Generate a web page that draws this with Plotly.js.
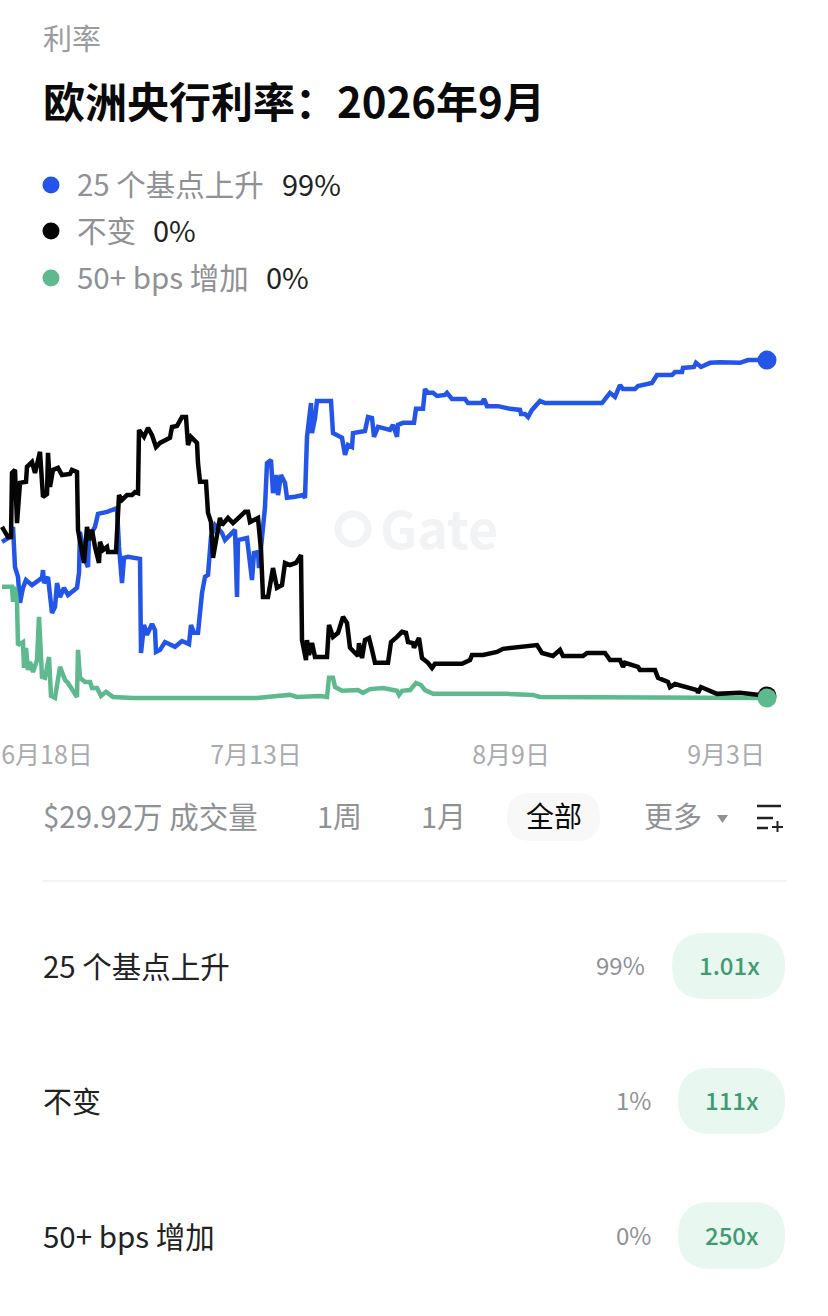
<!DOCTYPE html>
<html><head><meta charset="utf-8">
<script src="https://cdn.plot.ly/plotly-3.0.1.min.js"></script>
<style>html,body{margin:0;padding:0;background:#fff}#c{width:828px;height:1316px}</style>
</head><body><div id="c"></div>
<script>
const tickIdx=[47,256,511,726];
const tickLabels=['6月18日','7月13日','8月9日','9月3日'];
const seriesNames=['25 个基点上升','不变','50+ bps 增加'];
const blueX=[2,10,13,15,18,20,23,26,32,42,43,44,48,52,55,57,60,64,68,77,79,80,85,88,89,95,98,107,117,119,122,124,128,140,141,144,147,152,155,156,160,165,175,182,189,191,194,198,202,205,208,211,215,222,225,235,237,238,247,252,254,258,259,262,265,267,271,273,276,278,281,285,287,295,303,305,307,311,312,315,317,331,333,342,345,348,352,353,365,368,372,374,378,390,393,397,398,403,414,416,423,425,428,433,437,445,447,452,465,468,482,484,487,498,510,520,521,525,528,532,540,545,602,610,615,620,623,635,638,652,657,672,675,682,683,694,696,701,710,720,740,748,767];
const blueY=[45.8,47.2,50.2,38.4,35.5,27.9,32.3,34.6,33.1,35.2,37.5,33.7,35.5,24.9,26.7,33.7,29.6,32.3,30.2,32.3,36.7,48.7,40.5,38.4,47.2,50.2,54.0,54.6,55.7,44.3,33.7,41.1,41.4,40.8,13.2,21.4,18.5,21.7,19.9,13.5,14.1,16.4,15.0,16.7,15.8,21.4,19.1,19.1,30.8,35.5,36.1,47.2,50.7,48.4,46.3,49.3,29.6,46.3,46.9,34.6,42.5,42.8,38.1,48.4,56.0,68.9,69.8,60.1,65.4,59.5,65.4,63.1,58.7,59.0,59.5,58.7,76.6,86.5,77.7,82.1,87.1,87.1,77.7,76.3,71.3,74.2,73.6,77.7,78.3,82.4,82.1,76.6,79.5,78.6,80.1,76.6,80.1,80.7,80.7,84.8,84.8,90.6,89.5,89.5,88.6,88.9,89.5,87.7,87.7,86.5,86.5,87.7,85.6,85.6,84.8,84.5,83.3,83.3,82.4,84.5,87.1,86.5,86.5,89.5,88.3,91.8,90.6,90.6,91.5,92.4,94.7,94.7,95.6,95.6,96.8,97.1,98.3,97.1,98.3,98.5,98.3,99.1,99.1];
const blackX=[2,8,11,12,15,17,20,26,27,32,35,40,43,47,48,50,53,58,62,70,72,77,78,84,87,89,92,95,99,100,103,107,108,116,119,122,127,132,135,138,139,144,148,152,156,160,170,172,177,182,186,188,191,197,198,200,206,208,211,213,220,222,228,233,245,248,250,258,261,263,268,273,277,282,285,290,296,301,302,306,307,309,312,315,327,329,333,338,343,347,350,358,359,362,365,369,372,375,388,391,397,402,406,408,413,414,419,422,428,432,435,453,462,470,472,483,497,503,520,537,542,553,560,563,583,587,605,610,620,623,625,638,640,655,658,668,670,675,697,698,701,717,740,767];
const blackY=[50.2,47.2,47.2,66.0,66.9,51.3,63.1,63.4,67.8,69.2,66.0,72.2,59.0,59.8,71.9,61.9,66.9,67.5,65.4,65.7,66.9,66.3,49.3,39.6,50.2,46.3,49.3,44.3,39.6,45.8,43.4,44.3,42.8,42.8,59.5,58.1,59.5,59.5,60.4,60.1,78.6,76.6,79.2,77.1,73.6,74.8,76.3,79.5,79.8,82.4,82.4,74.2,76.6,74.8,68.9,63.4,63.4,54.3,51.6,41.1,52.8,50.7,52.8,51.3,54.6,54.6,51.6,52.8,43.4,29.6,29.6,38.1,32.3,33.1,39.6,39.0,39.6,41.9,17.0,11.1,17.0,12.6,16.1,12.0,12.0,21.4,17.9,19.1,23.8,22.0,14.7,12.3,16.1,11.7,17.0,17.6,14.1,10.3,10.3,16.4,17.9,19.4,19.1,16.4,16.1,14.7,17.6,11.7,10.3,8.8,10.0,10.0,10.0,11.1,12.6,12.6,13.5,14.4,15.0,15.5,13.2,12.3,14.1,12.3,12.3,13.2,13.2,11.1,11.1,9.1,10.3,9.1,8.2,8.2,5.9,4.7,3.2,4.1,2.3,1.5,3.2,1.2,1.5,0.6];
const greenX=[2,12,13,15,17,18,23,24,26,28,30,33,37,39,42,45,49,51,55,60,65,68,77,78,80,85,90,92,97,101,106,113,133,202,207,233,257,277,290,297,320,327,329,333,335,342,358,363,370,383,397,399,402,410,416,421,425,433,470,497,507,533,540,767];
const greenY=[32.6,32.6,28.2,32.6,27.9,15.5,16.4,8.8,14.7,8.2,10.6,7.6,11.1,23.8,6.2,5.9,12.0,0.6,0,9.1,5.3,4.4,0.3,14.1,5.9,4.7,4.7,2.9,2.9,0.6,1.8,0.3,0,0,0.3,0.3,0,0.6,0.9,0.3,0.6,0.3,5.9,5.9,3.2,2.1,2.3,1.5,2.6,2.9,2.1,0.9,2.1,2.3,4.4,3.8,2.3,1.2,1.2,1.5,1.2,0.9,0.3,0];

const BLUE='#2355e8',BLACK='#050505',GREEN='#5fb98f';
const W=828,H=1316,CJK='"Noto Sans CJK SC","Noto Sans",sans-serif';
const px=x=>x/W, py=y=>1-y/H;
const T=(text,x,y,size,color,anchor='left',weight=400)=>({text,x:px(x),y:py(y-2),xref:'paper',yref:'paper',xanchor:anchor,yanchor:'middle',showarrow:false,borderpad:0,font:{family:CJK,size,color,weight}});
const pill=(x0,y0,x1,y1,r,c,layer='below')=>{
  const a=px(x0),b=px(x1),t=py(y0),u=py(y1),rx=r/W,ry=r/H;
  return {type:'path',xref:'paper',yref:'paper',layer,fillcolor:c,line:{width:0},
    path:`M${a+rx} ${t}L${b-rx} ${t}Q${b} ${t} ${b} ${t-ry}L${b} ${u+ry}Q${b} ${u} ${b-rx} ${u}L${a+rx} ${u}Q${a} ${u} ${a} ${u+ry}L${a} ${t-ry}Q${a} ${t} ${a+rx} ${t}Z`};
};
const dot=(x,y,r,c)=>({type:'circle',xref:'paper',yref:'paper',x0:px(x-r),x1:px(x+r),y0:py(y+r),y1:py(y-r),fillcolor:c,line:{width:0}});
const seg=(x0,y0,x1,y1,c,w,layer='above')=>({type:'line',xref:'paper',yref:'paper',x0:px(x0),x1:px(x1),y0:py(y0),y1:py(y1),layer,line:{color:c,width:w}});

const line=(x,y,c)=>({x,y,type:'scatter',mode:'lines',line:{color:c,width:4.5,shape:'linear'},hoverinfo:'skip',showlegend:false});
const end=(x,y,c)=>({x:[x[x.length-1]],y:[y[y.length-1]],type:'scatter',mode:'markers',marker:{color:c,size:19,line:{width:0}},hoverinfo:'skip',showlegend:false,cliponaxis:false});

const GREY='#8f9196',DARK='#222222',PILLG='#e9f7f1',GT='#3f9c72';
const annotations=[
 T('利率',42,39,29,'#999b9f'),
 T('欧洲央行利率：2026年9月',42,102,42,'#0a0a0a','left',700),
 T(seriesNames[0],76,185,29.5,GREY),T('99%',281,185,29,DARK),
 T(seriesNames[1],76,231,29.5,GREY),T('0%',152,231,29,DARK),
 T(seriesNames[2],76,278,29.5,GREY),T('0%',265,278,29,DARK),
 T('Gate',379,529,52,'#f2f3f5','left',700),
 T('$29.92万 成交量',42,817,29.5,GREY),
 T('1周',316,817,29,GREY),T('1月',420,817,29,GREY),
 T('全部',554,817,28,'#0a0a0a','center'),
 T('更多',643,817,29,GREY),
 T(seriesNames[0],42,967,29.5,DARK),T('99%',646,966,24,GREY,'right'),T('1.01x',729,966,24,GT,'center',500),
 T(seriesNames[1],42,1102,29,DARK),T('1%',652,1101,24,GREY,'right'),T('111x',732,1101,24,GT,'center',500),
 T(seriesNames[2],42,1237,29.5,DARK),T('0%',652,1236,24,GREY,'right'),T('250x',732,1236,24,GT,'center',500)
];
const shapes=[
 dot(51,185,8.5,BLUE),dot(51,231,8.5,BLACK),dot(51,278,8.5,GREEN),
 {type:'circle',xref:'paper',yref:'paper',layer:'below',x0:px(338),x1:px(368),y0:py(544),y1:py(514),fillcolor:'rgba(0,0,0,0)',line:{color:'#f2f3f5',width:7}},
 pill(507,793,600,841,24,'#f8f8f8'),
 {type:'path',xref:'paper',yref:'paper',fillcolor:'#8f9196',line:{width:0},path:`M${px(717)} ${py(815)}L${px(728)} ${py(815)}L${px(722.5)} ${py(823)}Z`},
 seg(757,806,781,806,'#222',2.5),seg(757,818,773,818,'#222',2.5),seg(757,828,768,828,'#222',2.5),
 seg(772,827,783,827,'#222',2),seg(777.5,821,777.5,832,'#222',2),
 seg(42,881,787,881,'#efefef',1.5,'below'),
 pill(672,933,785,999,33,PILLG),pill(678,1068,785,1134,33,PILLG),pill(678,1202,785,1269,33,PILLG)
];
Plotly.newPlot('c',[
 line(blueX,blueY,BLUE),line(greenX,greenY,GREEN),line(blackX,blackY,BLACK),
 end(blueX,blueY,BLUE),end(blackX,blackY,BLACK),end(greenX,greenY,GREEN)
],{
 width:W,height:H,margin:{l:0,r:0,t:0,b:0},paper_bgcolor:'#fff',plot_bgcolor:'rgba(0,0,0,0)',showlegend:false,
 xaxis:{range:[0,828],domain:[0,1],showgrid:false,zeroline:false,showline:false,tickmode:'array',tickvals:tickIdx,ticktext:tickLabels,ticks:'outside',ticklen:18,tickcolor:'rgba(0,0,0,0)',tickfont:{family:CJK,size:25,color:'#a9abaf'},fixedrange:true,automargin:false},
 yaxis:{range:[-5,105],domain:[py(715),py(340)],visible:false,fixedrange:true},
 annotations,shapes
},{displayModeBar:false,staticPlot:true});
</script></body></html>
